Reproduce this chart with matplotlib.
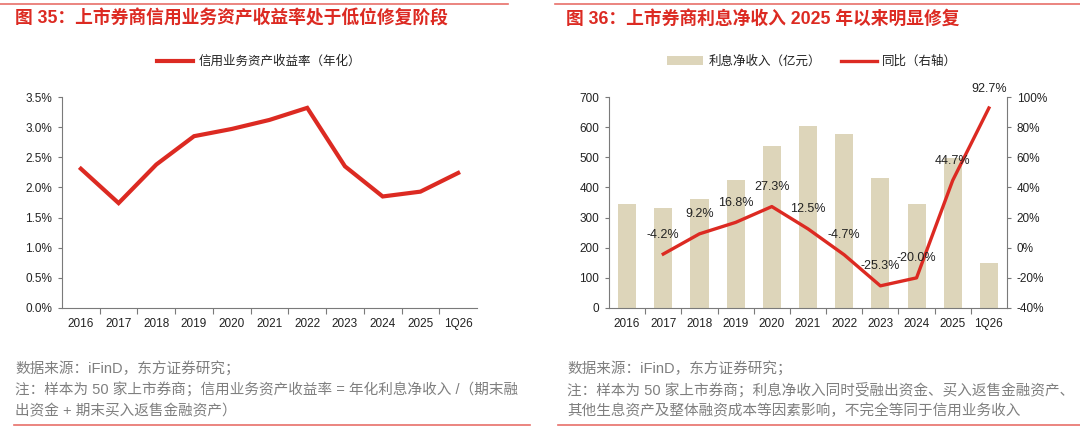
import numpy as np
import matplotlib
matplotlib.use("Agg")
import matplotlib.pyplot as plt
from matplotlib.ticker import FuncFormatter, FixedLocator

plt.rcParams["font.family"] = ["Liberation Sans", "Noto Sans CJK SC", "DejaVu Sans"]
plt.rcParams["font.size"] = 8.5
plt.rcParams["axes.unicode_minus"] = False

RED = "#DC2A22"
BEIGE = "#DDD5BA"
GRAY = "#7F7F7F"
TXT = "#222222"

categories = ["2016", "2017", "2018", "2019", "2020", "2021", "2022", "2023", "2024", "2025", "1Q26"]
# left chart: credit-business asset yield (annualised, %)
credit_yield = [2.31, 1.74, 2.38, 2.85, 2.97, 3.12, 3.32, 2.35, 1.85, 1.93, 2.24]
# right chart: net interest income (100m yuan) and yoy (%)
net_interest = [346, 332, 361, 423, 537, 604, 576, 430, 344, 497, 149]
yoy = [np.nan, -4.2, 9.2, 16.8, 27.3, 12.5, -4.7, -25.3, -20.0, 44.7, 92.7]

title_left = "图 35：上市券商信用业务资产收益率处于低位修复阶段"
title_right = "图 36：上市券商利息净收入 2025 年以来明显修复"
legend_left = "信用业务资产收益率（年化）"
legend_bar = "利息净收入（亿元）"
legend_line = "同比（右轴）"
src = "数据来源：iFinD，东方证券研究；"
note_left = ["注：样本为 50 家上市券商；信用业务资产收益率 = 年化利息净收入 /（期末融",
             "出资金 + 期末买入返售金融资产）"]
note_right = ["注：样本为 50 家上市券商；利息净收入同时受融出资金、买入返售金融资产、",
              "其他生息资产及整体融资成本等因素影响，不完全等同于信用业务收入"]

W, H = 1080, 430
fig = plt.figure(figsize=(W / 100, H / 100), dpi=100)

def fx(px):
    return px / W

def fy(py):
    return 1 - py / H

x = np.arange(len(categories))

def style_axes(ax):
    for s in ["top", "right"]:
        ax.spines[s].set_visible(False)
    for s in ["left", "bottom", "right"]:
        ax.spines[s].set_color("#7a7a7a")
        ax.spines[s].set_linewidth(0.8)
    ax.set_xlim(-0.5, len(categories) - 0.5)
    ax.set_xticks(x)
    ax.set_xticklabels(categories)
    ax.xaxis.set_minor_locator(FixedLocator(np.arange(0.5, len(categories) - 0.5, 1)))
    ax.tick_params(axis="x", which="major", length=0, pad=7, labelsize=8.5, colors=TXT)
    ax.tick_params(axis="x", which="minor", length=4, direction="out", color="#7a7a7a", width=0.8)
    ax.tick_params(axis="y", length=3, direction="out", color="#7a7a7a", width=0.8,
                   labelsize=8.5, colors=TXT, pad=4)

# ---- left panel
ax1 = fig.add_axes([fx(62), fy(308), fx(477 - 62), (308 - 97) / H])
ln1, = ax1.plot(x, credit_yield, color=RED, lw=3.0, solid_joinstyle="miter",
                label=legend_left)
ax1.set_ylim(0, 3.5)
ax1.set_yticks(np.arange(0, 3.51, 0.5))
ax1.yaxis.set_major_formatter(FuncFormatter(lambda v, p: f"{v:.1f}%"))
style_axes(ax1)
fig.legend(handles=[ln1], loc="center", bbox_to_anchor=(fx(259), fy(62)), frameon=False,
           fontsize=9, handlelength=2.9, handletextpad=0.4, labelcolor=TXT)

# ---- right panel
ax2 = fig.add_axes([fx(609), fy(308), fx(1007 - 609), (308 - 97) / H])
bars = ax2.bar(x, net_interest, width=0.5, color=BEIGE, label=legend_bar, zorder=1)
ax2.set_ylim(0, 700)
ax2.set_yticks(np.arange(0, 701, 100))
style_axes(ax2)

ax3 = ax2.twinx()
ax3.set_position(ax2.get_position())
ln2, = ax3.plot(x, yoy, color=RED, lw=2.4, label=legend_line, zorder=3)
ax3.set_ylim(-40, 100)
ax3.set_yticks(np.arange(-40, 101, 20))
ax3.yaxis.set_major_formatter(FuncFormatter(lambda v, p: f"{v:.0f}%"))
for s in ["top", "left", "bottom"]:
    ax3.spines[s].set_visible(False)
ax3.spines["right"].set_color("#7a7a7a")
ax3.spines["right"].set_linewidth(0.8)
ax3.tick_params(axis="y", length=3, direction="out", color="#7a7a7a", width=0.8,
                labelsize=8.5, colors=TXT, pad=4)
for xi, v in zip(x, yoy):
    if np.isnan(v):
        continue
    ax3.annotate(f"{v:.1f}%", (xi, v), xytext=(0, 14), textcoords="offset points",
                 ha="center", va="center", fontsize=9, color=TXT, annotation_clip=False)

fig.legend(handles=[bars, ln2], loc="center", bbox_to_anchor=(fx(812), fy(62)), ncol=2,
           frameon=False, fontsize=9, handlelength=2.9, handletextpad=0.4,
           columnspacing=1.6, labelcolor=TXT)

# ---- titles, rules, notes
fig.text(fx(15), fy(19), title_left, fontsize=12.8, fontweight="bold", color=RED,
         ha="left", va="center")
fig.text(fx(566), fy(19), title_right, fontsize=12.8, fontweight="bold", color=RED,
         ha="left", va="center")
fig.add_artist(plt.Line2D([0, fx(508)], [fy(3.5)] * 2, color="#E8706A", lw=1.2))
fig.add_artist(plt.Line2D([fx(555), 1], [fy(3.5)] * 2, color="#E8706A", lw=1.2))
fig.add_artist(plt.Line2D([fx(14), fx(530)], [fy(425)] * 2, color="#E8706A", lw=1.2))
fig.add_artist(plt.Line2D([fx(558), 1], [fy(425)] * 2, color="#E8706A", lw=1.2))

for x0, notes in [(15, note_left), (567, note_right)]:
    fig.text(fx(x0), fy(368), src, fontsize=10.5, color=GRAY, ha="left", va="center")
    fig.text(fx(x0), fy(390), notes[0], fontsize=10.5, color=GRAY, ha="left", va="center")
    fig.text(fx(x0), fy(411), notes[1], fontsize=10.5, color=GRAY, ha="left", va="center")

fig.savefig("out.png", dpi=100)
